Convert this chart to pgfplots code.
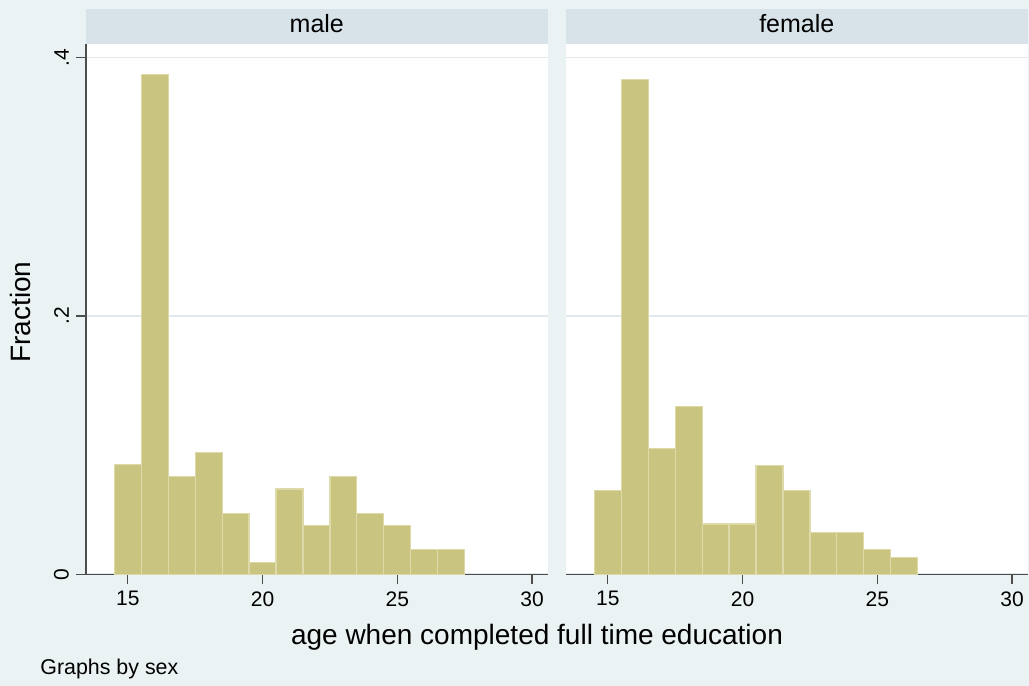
\documentclass[border=0pt]{standalone}
\usepackage{pgfplots}
\pgfplotsset{compat=1.18}
\usepackage{fontspec}
\setmainfont{Liberation Sans}

\definecolor{bgcol}{HTML}{EAF2F3}
\definecolor{hdrcol}{HTML}{D8E3E9}
\definecolor{barfill}{HTML}{C9C47F}
\definecolor{barline}{HTML}{DDD9A8}
\definecolor{gridcol}{HTML}{E1E9ED}
\definecolor{axcol}{HTML}{4D4D4D}

\pgfplotsset{
  panel/.style={
    scale only axis,
    width=230.85pt, height=265.3pt,
    anchor=south west,
    xmin=13.45, xmax=30.58, ymin=0, ymax=0.4108,
    axis background/.style={fill=white},
    axis x line=bottom, axis y line=left,
    axis line style={-, axcol, line width=0.65pt},
    every outer x axis line/.append style={-},
    every outer y axis line/.append style={-},
    xtick={15,20,25,30},
    ytick={0,0.2,0.4},
    yticklabels={0,.2,.4},
    tick align=outside,
    major tick length=5pt,
    tick style={axcol, line width=0.65pt},
    ymajorgrids,
    major grid style={gridcol, line width=0.8pt},
    tick label style={font=\fontsize{10.5}{12}\selectfont, black},
    /pgf/number format/assume math mode=true,
    yticklabel style={rotate=90, anchor=south},
    clip=false,
  },
  bars/.style={ybar interval, fill=barfill, draw=barline, line width=0.6pt},
}

\begin{document}
\begin{tikzpicture}
  \fill[bgcol] (0pt,0pt) rectangle (514.5pt,343pt);
  \path[use as bounding box] (0pt,0pt) rectangle (514.5pt,343pt);

  % panel headers
  \fill[hdrcol] (43pt,321.15pt) rectangle (273.85pt,338.5pt);
  \fill[hdrcol] (283pt,321.15pt) rectangle (513.85pt,338.5pt);

  % male
  \begin{axis}[panel, at={(43pt,55.85pt)}]
    \addplot[bars] coordinates {
      (14.5,0.0849) (15.5,0.3868) (16.5,0.0755) (17.5,0.0943)
      (18.5,0.0472) (19.5,0.0094) (20.5,0.0660) (21.5,0.0377)
      (22.5,0.0755) (23.5,0.0472) (24.5,0.0377) (25.5,0.0189)
      (26.5,0.0189) (27.5,0)
    };
  \end{axis}

  % female
  \begin{axis}[panel, at={(283pt,55.85pt)},
      y axis line style={draw=none},
      ytick style={draw=none},
      yticklabels={}]
    \addplot[bars] coordinates {
      (14.5,0.0649) (15.5,0.3831) (16.5,0.0974) (17.5,0.1299)
      (18.5,0.0390) (19.5,0.0390) (20.5,0.0844) (21.5,0.0649)
      (22.5,0.0325) (23.5,0.0325) (24.5,0.0195) (25.5,0.0130)
      (26.5,0)
    };
  \end{axis}

  \node[anchor=base, font=\fontsize{12.5}{14}\selectfont] at (158.4pt,326.5pt) {male};
  \node[anchor=base, font=\fontsize{12.5}{14}\selectfont] at (398.4pt,326.5pt) {female};

  % shared titles and note
  \node[anchor=base, font=\fontsize{14}{16}\selectfont] at (268.5pt,20.5pt)
    {age when completed full time education};
  \node[anchor=base, rotate=90, font=\fontsize{14}{16}\selectfont] at (15pt,187pt)
    {Fraction};
  \node[anchor=base west, inner sep=0pt, font=\fontsize{10.7}{12}\selectfont] at (20pt,5.5pt)
    {Graphs by sex};
\end{tikzpicture}
\end{document}
